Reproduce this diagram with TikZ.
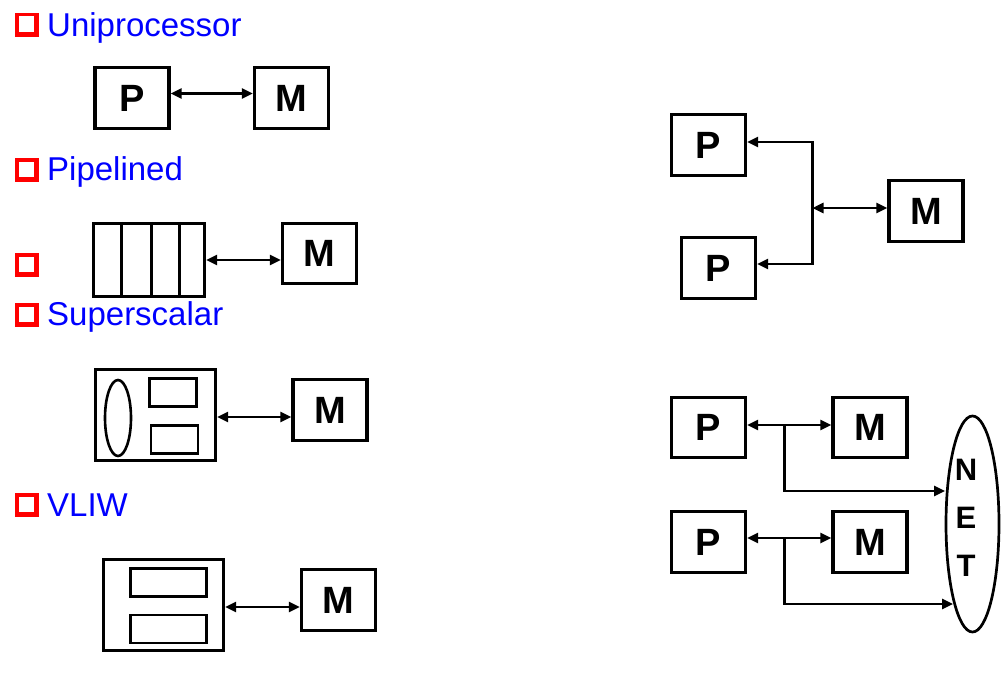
\documentclass[tikz,border=0pt]{standalone}
\usepackage{fontspec}
\setmainfont{Liberation Sans}
\usetikzlibrary{arrows.meta,calc,shapes.geometric}
\definecolor{tblue}{RGB}{0,0,255}
\definecolor{tred}{RGB}{255,0,0}
\begin{document}
\begin{tikzpicture}[x=1pt,y=-1pt,
  box/.style={draw,line width=3.2pt,inner sep=0pt,minimum width=74pt,minimum height=61pt,
    font=\fontsize{38}{40}\selectfont\bfseries},
  frame/.style={draw,line width=3.2pt,inner sep=0pt},
  part/.style={draw,line width=2.6pt,inner sep=0pt},
  title/.style={anchor=base west,inner sep=0pt,text=tblue,font=\fontsize{33}{38}\selectfont},
  netletter/.style={inner sep=0pt,font=\fontsize{31}{34}\selectfont\bfseries},
  link/.style={line width=2.6pt,{Triangle[length=11pt,width=10pt]}-{Triangle[length=11pt,width=10pt]}},
  tolink/.style={line width=2.6pt,-{Triangle[length=11pt,width=10pt]}},
  bullet/.pic={
    \fill[tred] (0,0) rectangle (24,24);
    \fill[white] (3.5,3.5) rectangle (18.5,19);
  }
]
\useasboundingbox (0,0) rectangle (1003,693);

% bullets and titles
\pic at (15,13) {bullet};
\pic at (15,158) {bullet};
\pic at (15,253) {bullet};
\pic at (15,303) {bullet};
\pic at (15,493) {bullet};
\node[title] (tU) at (47,37) {Uniprocessor};
\node[title] (tP) at (47,180) {Pipelined};
\node[title] (tS) at (47,325) {Superscalar};
\node[title] (tV) at (47,516) {VLIW};

% Uniprocessor
\node[box] (P0) at (132,98) {P};
\node[box] (M0) at (291.5,98) {M};
\draw[link] ([yshift=4.5pt]P0.east) -- ([yshift=4.5pt]M0.west);

% Pipelined
\node[frame,minimum width=111pt,minimum height=73pt] (Pipe) at (149,260) {};
\foreach \f in {0.26,0.52,0.77}
  \draw[line width=3pt] ($(Pipe.north west)!\f!(Pipe.north east)$) -- ($(Pipe.south west)!\f!(Pipe.south east)$);
\node[box,minimum height=60pt] (M1) at (319.5,253.5) {M};
\draw[link] (Pipe.east) -- (Pipe.east -| M1.west);

% Superscalar
\node[frame,minimum width=120pt,minimum height=91pt] (SS) at (155.5,415) {};
\node[part,ellipse,minimum width=26pt,minimum height=76pt] (SSe) at (118,418) {};
\node[part,minimum width=47pt,minimum height=28pt] (SSa) at (173,392.5) {};
\node[part,minimum width=47pt,minimum height=28pt] (SSb) at (174.5,439.5) {};
\node[box] (M2) at (330,410) {M};
\coordinate (s2) at ($(SS.east)+(0,2)$);
\draw[link] (s2) -- (s2 -| M2.west);

% VLIW
\node[frame,minimum width=120pt,minimum height=91pt] (VL) at (163.5,605) {};
\node[part,minimum width=76pt,minimum height=28pt] (VLa) at (168.5,582.5) {};
\node[part,minimum width=76pt,minimum height=28pt] (VLb) at (168.5,629) {};
\node[box] (M3) at (338.5,600) {M};
\coordinate (v2) at ($(VL.east)+(0,2)$);
\draw[link] (v2) -- (v2 -| M3.west);

% Shared memory
\node[box] (RP1) at (708.5,145) {P};
\node[box] (RP2) at (718.5,268) {P};
\node[box] (RM) at (926,211) {M};
\coordinate (jx) at (812.5,0);
\coordinate (r1) at ($(RP1.east)+(0,-3)$);
\coordinate (r2) at ($(RP2.east)+(0,-4)$);
\coordinate (r3) at ($(RM.west)+(0,-3)$);
\draw[link] (r1) -- (r1 -| jx) -- (r2 -| jx) -- (r2);
\draw[link] (r3 -| jx) -- (r3);

% Distributed memory
\node[box,minimum height=60pt] (BP1) at (708.5,427.5) {P};
\node[box,minimum height=60pt] (BM1) at (870,427.5) {M};
\node[box] (BP2) at (708.5,542) {P};
\node[box] (BM2) at (870,542) {M};
\node[draw,line width=2.7pt,ellipse,inner sep=0pt,minimum width=53pt,minimum height=216pt] (NET) at (972.5,524) {};
\node[netletter] (nN) at (966,470) {N};
\node[netletter] (nE) at (966,517.5) {E};
\node[netletter] (nT) at (966,566) {T};
\coordinate (kx) at (784.5,0);
\coordinate (b1) at ($(BP1.east)+(0,-2.5)$);
\coordinate (b2) at ($(BP2.east)+(0,-4)$);
\coordinate (n1) at (945,491);
\coordinate (n2) at (953,604);
\draw[link] (b1) -- (b1 -| BM1.west);
\draw[link] (b2) -- (b2 -| BM2.west);
\draw[tolink] (b1 -| kx) |- (n1);
\draw[tolink] (b2 -| kx) |- (n2);
\end{tikzpicture}
\end{document}
